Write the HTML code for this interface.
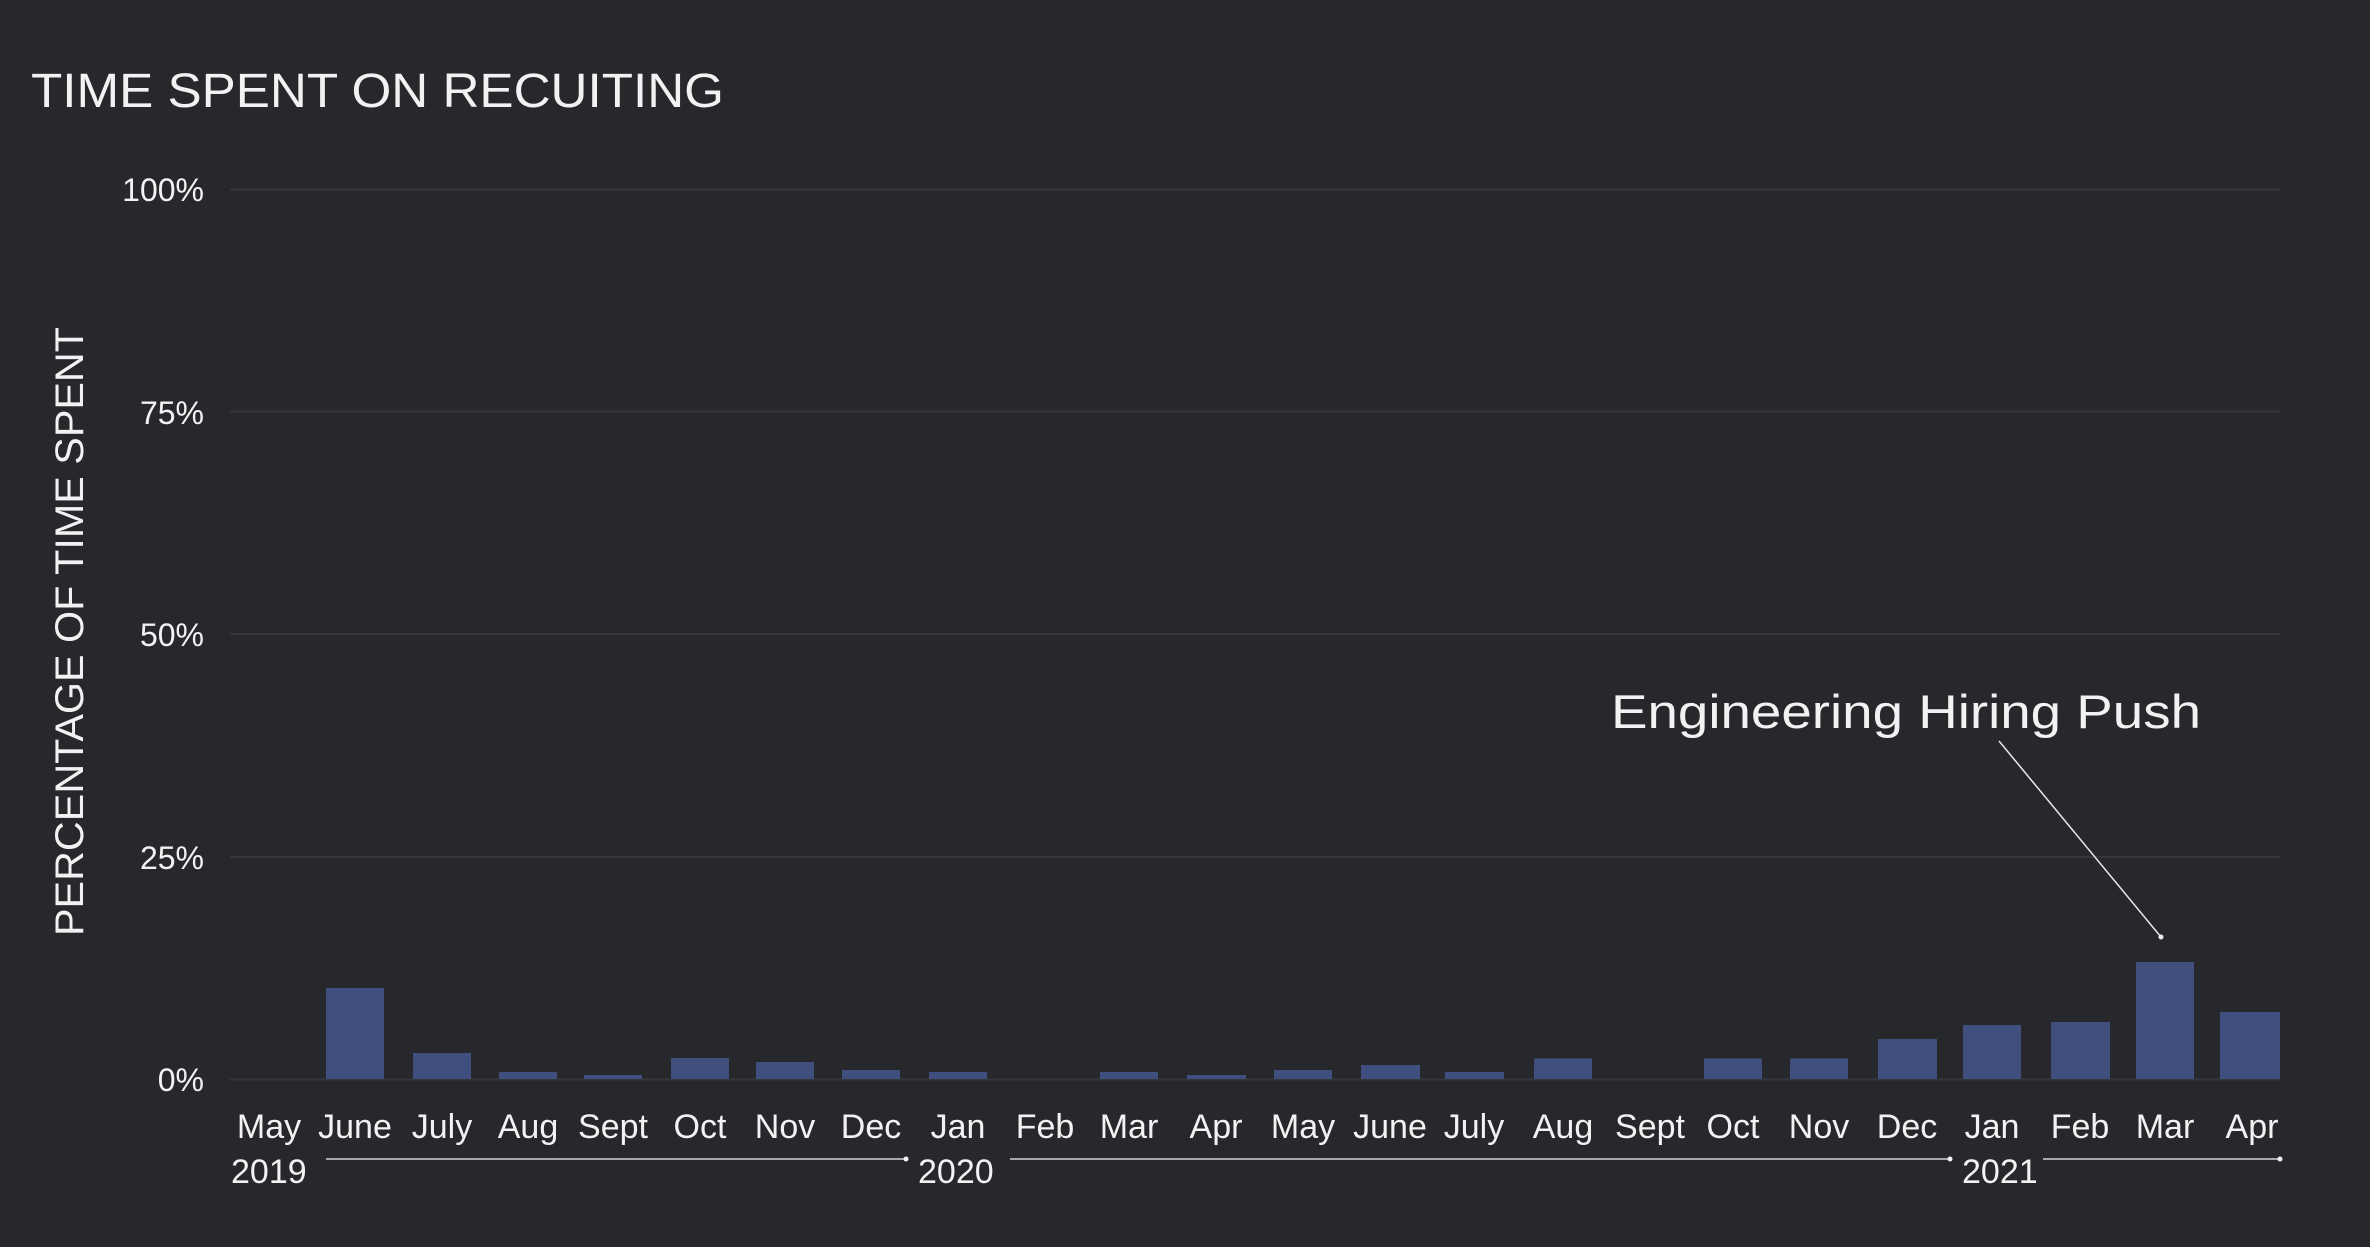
<!DOCTYPE html>
<html><head><meta charset="utf-8"><style>
html,body{margin:0;padding:0;background:#27282c;}
svg{display:block;}
text{font-family:"Liberation Sans",sans-serif;fill:#f2f2f2;}
</style></head><body>
<svg width="2370" height="1247" viewBox="0 0 2370 1247" xmlns="http://www.w3.org/2000/svg">
<rect width="2370" height="1247" fill="#27282c"/>
<text x="31" y="107" font-size="48" textLength="693" lengthAdjust="spacingAndGlyphs">TIME SPENT ON RECUITING</text>
<text transform="translate(83,936) rotate(-90)" font-size="40" textLength="609" lengthAdjust="spacingAndGlyphs">PERCENTAGE OF TIME SPENT</text>
<g stroke="#35363b" stroke-width="2">
<line x1="230" y1="189.5" x2="2280" y2="189.5"/>
<line x1="230" y1="411.5" x2="2280" y2="411.5"/>
<line x1="230" y1="634" x2="2280" y2="634"/>
<line x1="230" y1="857" x2="2280" y2="857"/>
<line x1="230" y1="1079.5" x2="2280" y2="1079.5"/>
</g>
<g font-size="32" text-anchor="end">
<text x="204" y="201">100%</text>
<text x="204" y="424">75%</text>
<text x="204" y="646">50%</text>
<text x="204" y="869">25%</text>
<text x="204" y="1091">0%</text>
</g>
<g fill="#414f7f">
<rect x="326" y="988" width="58" height="91"/>
<rect x="413" y="1053" width="58" height="26"/>
<rect x="499" y="1072" width="58" height="7"/>
<rect x="584" y="1075" width="58" height="4"/>
<rect x="671" y="1058" width="58" height="21"/>
<rect x="756" y="1062" width="58" height="17"/>
<rect x="842" y="1070" width="58" height="9"/>
<rect x="929" y="1072" width="58" height="7"/>
<rect x="1100" y="1072" width="58" height="7"/>
<rect x="1187" y="1075" width="59" height="4"/>
<rect x="1274" y="1070" width="58" height="9"/>
<rect x="1361" y="1065" width="59" height="14"/>
<rect x="1445" y="1072" width="59" height="7"/>
<rect x="1534" y="1058.5" width="58" height="20.5"/>
<rect x="1704" y="1058.5" width="58" height="20.5"/>
<rect x="1790" y="1058.5" width="58" height="20.5"/>
<rect x="1878" y="1039" width="59" height="40"/>
<rect x="1963" y="1025" width="58" height="54"/>
<rect x="2051" y="1022" width="59" height="57"/>
<rect x="2136" y="962" width="58" height="117"/>
<rect x="2220" y="1012" width="60" height="67"/>
</g>
<g font-size="34" text-anchor="middle">
<text x="269" y="1138">May</text>
<text x="355" y="1138">June</text>
<text x="442" y="1138">July</text>
<text x="528" y="1138">Aug</text>
<text x="613" y="1138">Sept</text>
<text x="700" y="1138">Oct</text>
<text x="785" y="1138">Nov</text>
<text x="871" y="1138">Dec</text>
<text x="958" y="1138">Jan</text>
<text x="1045" y="1138">Feb</text>
<text x="1129" y="1138">Mar</text>
<text x="1216" y="1138">Apr</text>
<text x="1303" y="1138">May</text>
<text x="1390" y="1138">June</text>
<text x="1474" y="1138">July</text>
<text x="1563" y="1138">Aug</text>
<text x="1650" y="1138">Sept</text>
<text x="1733" y="1138">Oct</text>
<text x="1819" y="1138">Nov</text>
<text x="1907" y="1138">Dec</text>
<text x="1992" y="1138">Jan</text>
<text x="2080" y="1138">Feb</text>
<text x="2165" y="1138">Mar</text>
<text x="2252" y="1138">Apr</text>
</g>
<g font-size="34">
<text x="231" y="1183">2019</text>
<text x="918" y="1183">2020</text>
<text x="1962" y="1183">2021</text>
</g>
<g stroke="#a8a8a8" stroke-width="2">
<line x1="326" y1="1159" x2="906" y2="1159"/>
<line x1="1010" y1="1159" x2="1950" y2="1159"/>
<line x1="2043" y1="1159" x2="2280" y2="1159"/>
</g>
<g fill="#f2f2f2">
<circle cx="906" cy="1159" r="2.5"/>
<circle cx="1950" cy="1159" r="2.5"/>
<circle cx="2280" cy="1159" r="2.5"/>
<circle cx="2161" cy="937" r="2.5"/>
</g>
<text x="1611" y="728" font-size="47" textLength="590" lengthAdjust="spacingAndGlyphs">Engineering Hiring Push</text>
<line x1="1999" y1="741" x2="2161" y2="937" stroke="#e8e8e8" stroke-width="1.5"/>
</svg>
</body></html>
